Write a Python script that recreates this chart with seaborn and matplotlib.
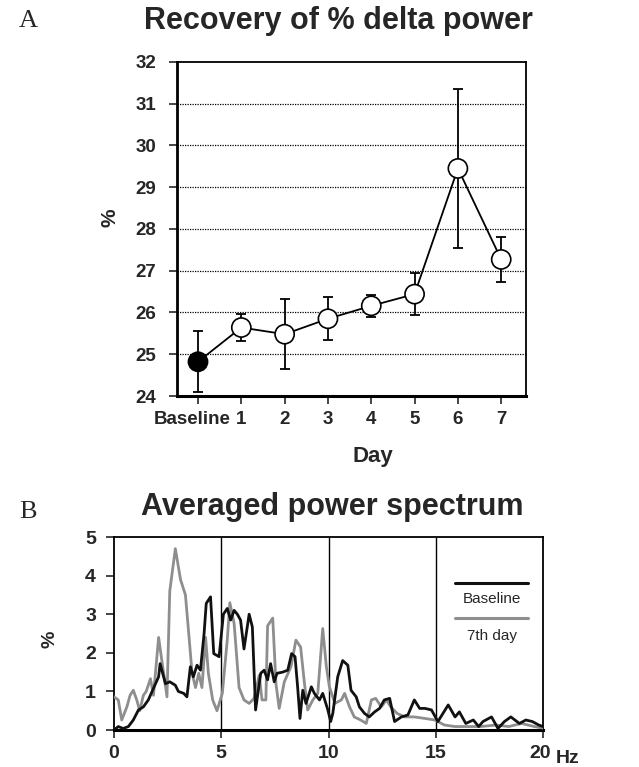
import numpy as np
import pandas as pd
import matplotlib
matplotlib.use("Agg")
import matplotlib.pyplot as plt
import matplotlib.transforms as mtransforms
import seaborn as sns

# ---------------- data ----------------
day_labels = ["Baseline", "1", "2", "3", "4", "5", "6", "7"]
delta_mean = [24.82, 25.64, 25.48, 25.85, 26.16, 26.44, 29.45, 27.27]
delta_err = [0.73, 0.33, 0.84, 0.52, 0.27, 0.50, 1.90, 0.54]

base_hz = [0.0, 0.2, 0.43, 0.67, 0.9, 1.14, 1.37, 1.6, 1.84, 2.08, 2.15, 2.4, 2.6, 2.86,
           3.0, 3.25, 3.4, 3.56, 3.7, 3.87, 4.03, 4.2, 4.3, 4.5, 4.65, 4.9, 5.1, 5.28,
           5.44, 5.6, 5.75, 5.9, 6.06, 6.3, 6.45, 6.6, 6.84, 7.0, 7.16, 7.3, 7.47, 7.6,
           7.86, 8.1, 8.28, 8.44, 8.56, 8.67, 8.8, 8.95, 9.2, 9.34, 9.58, 9.73, 9.97,
           10.1, 10.2, 10.43, 10.66, 10.9, 11.05, 11.29, 11.44, 11.68, 11.9, 12.15,
           12.38, 12.6, 12.85, 13.08, 13.4, 13.7, 14.0, 14.25, 14.5, 14.8, 15.1, 15.58,
           15.9, 16.1, 16.4, 16.75, 17.0, 17.2, 17.6, 17.9, 18.2, 18.5, 18.9, 19.2,
           19.5, 19.8, 20.0]
base_pow = [0.0, 0.09, 0.04, 0.09, 0.26, 0.52, 0.6, 0.78, 1.08, 1.38, 1.72, 1.2, 1.25, 1.16,
            1.0, 0.95, 0.86, 1.64, 1.38, 1.68, 1.55, 2.5, 3.28, 3.45, 1.98, 1.9, 3.0, 3.15,
            2.85, 3.1, 3.0, 2.85, 2.1, 3.0, 2.67, 0.52, 1.47, 1.55, 1.3, 1.72, 1.25, 1.47,
            1.5, 1.55, 1.98, 1.9, 1.12, 0.3, 1.03, 0.69, 1.12, 0.95, 0.78, 0.95, 0.52,
            0.22, 0.43, 1.38, 1.8, 1.68, 1.03, 0.86, 0.6, 0.43, 0.34, 0.47,
            0.56, 0.78, 0.82, 0.22, 0.34, 0.39, 0.78, 0.56, 0.56, 0.52, 0.22, 0.65,
            0.34, 0.47, 0.17, 0.26, 0.09, 0.22, 0.34, 0.04, 0.22, 0.34, 0.17, 0.26,
            0.22, 0.13, 0.09]

day7_hz = [0.0, 0.2, 0.36, 0.6, 0.75, 0.9, 1.06, 1.2, 1.37, 1.5, 1.7, 1.84, 2.08, 2.23,
           2.47, 2.6, 2.86, 3.1, 3.33, 3.5, 3.64, 3.8, 3.95, 4.1, 4.27, 4.4, 4.6, 4.8,
           5.05, 5.28, 5.4, 5.6, 5.83, 6.06, 6.3, 6.53, 6.77, 6.9, 7.08, 7.16, 7.4, 7.55,
           7.7, 7.94, 8.25, 8.48, 8.7, 8.87, 9.03, 9.27, 9.5, 9.73, 9.9, 10.04, 10.3,
           10.6, 10.75, 10.98, 11.2, 11.5, 11.76, 12.0, 12.2, 12.46, 12.7, 12.9, 13.2,
           13.55, 14.0, 14.5, 14.96, 15.4, 15.9, 16.5, 17.1, 17.8, 18.4, 19.0, 19.6, 20.0]
day7_pow = [0.86, 0.78, 0.26, 0.6, 0.9, 1.03, 0.78, 0.5, 0.9, 1.0, 1.33, 0.9, 2.4, 1.8,
            0.86, 3.6, 4.7, 3.9, 3.5, 2.4, 1.47, 1.1, 1.47, 1.1, 2.4, 1.47, 0.78, 0.5,
            0.95, 2.33, 3.3, 2.76, 1.1, 0.78, 0.69, 0.82, 1.42, 0.78, 0.78, 2.7, 2.9, 1.2,
            0.56, 1.25, 1.64, 2.33, 2.15, 1.25, 0.52, 0.78, 0.95, 2.63, 1.64, 1.12, 0.69,
            0.78, 0.95, 0.6, 0.34, 0.26, 0.17, 0.78, 0.82, 0.6, 0.78, 0.6, 0.43,
            0.34, 0.34, 0.3, 0.26, 0.13, 0.09, 0.09, 0.09, 0.13, 0.09, 0.17, 0.09, 0.05]

series_names = ["Baseline", "7th day"]

# ---------------- style ----------------
sns.set_style("ticks")
plt.rcParams['font.family'] = ['Liberation Sans', 'DejaVu Sans']
plt.rcParams['axes.linewidth'] = 1.3
plt.rcParams['xtick.major.width'] = 1.2
plt.rcParams['ytick.major.width'] = 1.2

fig = plt.figure(figsize=(6.39, 7.67), dpi=100)
fig.patch.set_facecolor("white")

# ---------------- Panel A ----------------
axA = fig.add_axes([0.277, 0.4837, 0.546, 0.4355])
pos = np.arange(len(day_labels))
dfA = pd.DataFrame({"pos": pos, "mean": delta_mean})
for yv in range(25, 32):
    axA.axhline(yv, color="black", lw=0.9, ls=(0, (1, 1)), zorder=0)
axA.errorbar(pos, delta_mean, yerr=delta_err, fmt="none", ecolor="black",
             elinewidth=1.3, capsize=3.5, capthick=1.3, zorder=2)
sns.lineplot(data=dfA, x="pos", y="mean", ax=axA, color="black", lw=1.3,
             zorder=3, legend=False)
face = ["black"] + ["white"] * (len(day_labels) - 1)
axA.scatter(pos, delta_mean, s=190, c=face, edgecolors="black", linewidths=1.2, zorder=4)
axA.set_xlim(-0.485, 7.57)
axA.set_ylim(24, 32)
axA.set_xticks(pos)
axA.set_xticklabels(day_labels)
axA.set_yticks(range(24, 33))
axA.set_xlabel("")
axA.set_ylabel("")
axA.tick_params(axis="both", direction="out", length=6, labelsize=13.5)
axA.tick_params(axis="x", pad=4.5)
axA.tick_params(axis="y", pad=9)
for lab in axA.get_xticklabels() + axA.get_yticklabels():
    lab.set_fontweight("bold")
# nudge the long "Baseline" label slightly left, as in the reference
first = axA.get_xticklabels()[0]
first.set_transform(first.get_transform() +
                    mtransforms.ScaledTranslation(-6 / 100, 0, fig.dpi_scale_trans))
for sp in axA.spines.values():
    sp.set_visible(True)
    sp.set_color("black")
axA.spines["bottom"].set_linewidth(2.2)
axA.spines["left"].set_linewidth(2.0)

fig.text(0.225, 0.9628, "Recovery of % delta power", fontsize=22, fontweight="bold",
         ha="left", va="baseline")
fig.text(0.172, 0.716, "%", fontsize=15, fontweight="bold", rotation=90,
         ha="center", va="center")
fig.text(0.583, 0.398, "Day", fontsize=16, fontweight="bold", ha="center", va="baseline")
fig.text(0.044, 0.972, "A", fontsize=19, family=["Liberation Serif", "DejaVu Serif"],
         ha="center", va="center")

# ---------------- Panel B ----------------
axB = fig.add_axes([0.1784, 0.0482, 0.6714, 0.2516])
dfB = pd.concat([
    pd.DataFrame({"Hz": day7_hz, "pow": day7_pow, "series": series_names[1]}),
    pd.DataFrame({"Hz": base_hz, "pow": base_pow, "series": series_names[0]}),
])
sns.lineplot(data=dfB, x="Hz", y="pow", hue="series", sort=False,
             palette={series_names[0]: "#111111", series_names[1]: "#8e8e8e"},
             hue_order=[series_names[1], series_names[0]],
             lw=2.0, ax=axB, legend=False, zorder=3)
for xv in (5, 10, 15):
    axB.axvline(xv, color="black", lw=1.0, zorder=1)
axB.set_xlim(0, 20)
axB.set_ylim(0, 5)
axB.set_xticks([0, 5, 10, 15, 20])
axB.set_yticks(range(0, 6))
axB.set_xlabel("")
axB.set_ylabel("")
axB.tick_params(axis="both", direction="out", length=6, labelsize=14)
axB.tick_params(axis="x", pad=5)
axB.tick_params(axis="y", pad=7)
for lab in axB.get_xticklabels() + axB.get_yticklabels():
    lab.set_fontweight("bold")
last = axB.get_xticklabels()[-1]
last.set_transform(last.get_transform() +
                   mtransforms.ScaledTranslation(-3 / 100, 0, fig.dpi_scale_trans))
for sp in axB.spines.values():
    sp.set_visible(True)
    sp.set_color("black")
axB.spines["bottom"].set_linewidth(2.2)

# legend drawn as lines with text beneath
axB.plot([0.795, 0.965], [0.762, 0.762], transform=axB.transAxes, color="#111111", lw=2.2)
axB.text(0.881, 0.658, series_names[0], transform=axB.transAxes, fontsize=11,
         ha="center", va="baseline")
axB.plot([0.795, 0.965], [0.580, 0.580], transform=axB.transAxes, color="#8e8e8e", lw=2.2)
axB.text(0.881, 0.466, series_names[1], transform=axB.transAxes, fontsize=11,
         ha="center", va="baseline")

fig.text(0.8185, 0.3286, "Averaged power spectrum", fontsize=22, fontweight="bold",
         ha="right", va="baseline")
fig.text(0.078, 0.166, "%", fontsize=14, fontweight="bold", rotation=90,
         ha="center", va="center")
fig.text(0.889, 0.011, "Hz", fontsize=14, fontweight="bold", ha="center", va="center")
fig.text(0.044, 0.332, "B", fontsize=19, family=["Liberation Serif", "DejaVu Serif"],
         ha="center", va="center")

fig.savefig("out.png", dpi=100, facecolor="white")
